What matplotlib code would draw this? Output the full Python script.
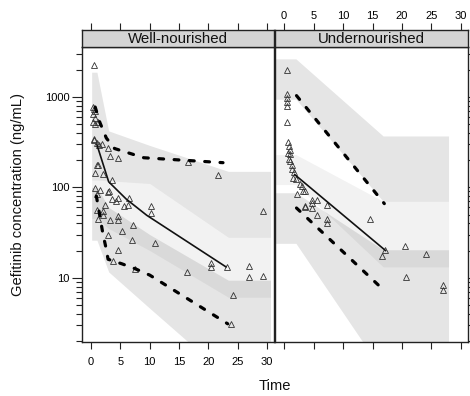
import matplotlib
matplotlib.use("Agg")
import matplotlib.pyplot as plt
import numpy as np
from matplotlib.ticker import LogLocator, NullFormatter, FixedLocator

plt.rcParams['font.family'] = ['Liberation Sans', 'DejaVu Sans']

# ---------------- data ----------------
panels = ["Well-nourished", "Undernourished"]

# observed concentrations (Time, ng/mL)
obs_L_t = [0.5, 0.4, 0.5, 0.6, 0.4, 0.7, 0.4, 1.2, 0.6, 0.55, 1.0, 0.5, 1.8, 1.4, 2.8, 3.2, 4.6,
           1.2, 1.0, 0.7, 2.1, 3.5, 0.7, 1.5, 3.1, 1.0, 2.9, 3.5, 4.6, 6.4, 4.3, 6.3, 2.4, 5.6,
           2.1, 2.1, 3.2, 4.6, 4.6, 5.3, 7.2, 10.3, 10.3, 10.9, 6.9, 2.9, 4.6, 3.8, 7.5,
           16.4, 20.4, 20.4, 23.1, 27.0, 27.0, 29.3, 24.2, 23.9, 16.5, 21.7, 29.3, 1.0, 1.2]
obs_L_v = [2270, 770, 740, 700, 640, 590, 520, 520, 500, 345, 305, 330, 298, 292, 270, 220, 212,
           175, 178, 144, 140, 121, 98, 94, 90, 84, 88, 74, 77, 77, 70, 64, 64, 62,
           54, 50, 44, 48, 43, 32.5, 38.5, 62, 52, 24, 26, 30, 20.5, 15.4, 12.4,
           11.5, 14.4, 13.2, 13.2, 13.4, 10.3, 10.4, 6.4, 3.1, 190, 136, 54, 56, 45]

obs_R_t = [0.5, 0.5, 0.5, 0.5, 0.5, 0.5, 0.7, 0.85, 1.0, 0.7, 1.0, 0.85, 1.0, 1.25, 1.4, 1.6,
           1.5, 2.0, 2.7, 2.95, 3.2, 2.1, 3.5, 3.5, 4.7, 4.7, 5.6, 4.7, 5.5, 7.3, 7.3, 7.3, 3.5,
           14.6, 16.6, 20.5, 24.1, 20.6, 27.0, 27.0, 17.1]
obs_R_v = [1980, 1070, 965, 866, 795, 533, 316, 285, 256, 241, 231, 203, 194, 178, 161, 148,
           127, 122, 110, 103, 90, 85, 90, 62, 73, 67, 72, 59, 50, 64, 44.5, 40, 60,
           44.5, 17.4, 22.5, 18.5, 10.3, 8.3, 7.3, 20.5]

# observed percentiles (5th dashed, median solid, 95th dashed)
p95_L_t = [0.7, 1.5, 2.6, 4.0, 9.0, 22.5]
p95_L_v = [770, 520, 350, 268, 212, 187]
p50_L_t = [1.0, 3.0, 6.0, 9.5, 23.0]
p50_L_v = [295, 115, 74, 49, 13.2]
p05_L_t = [0.9, 1.5, 2.0, 2.5, 2.9, 5.2, 7.5, 10.0, 23.3]
p05_L_v = [80, 48, 31, 22, 16, 14.3, 12.6, 10.7, 3.1]

p95_R_t = [2.1, 17.0]
p95_R_v = [1030, 66]
p50_R_t = [1.8, 17.2]
p50_R_v = [138, 20]
p05_R_t = [2.1, 17.1]
p05_R_v = [59, 7.1]

# simulated confidence areas
ci_L_t = [0.1, 1.0, 3.0, 10.0, 23.4, 30.6]
ci95_L_hi = [1870, 1870, 420, 290, 150, 150]
ci95_L_lo = [120, 120, 118, 110, 28, 28]
ci50_L_hi = [120, 120, 118, 110, 28, 28]
ci50_L_lo = [45, 45, 35, 20, 6.1, 6.1]
ci05_L_hi = [100, 100, 60, 30, 9.4, 9.4]
ci05_L_lo = [26, 26, 11.6, 4.6, 0.8, 0.8]

ci_R_t = [-1.5, 2.0, 16.8, 27.9]
ci95_R_hi = [2625, 2625, 369, 369]
ci95_R_lo = [940, 940, 70, 70]
ci50_R_hi = [230, 230, 70, 70]
ci50_R_lo = [107, 107, 13.2, 13.2]
ci05_R_hi = [87, 87, 20.4, 20.4]
ci05_R_lo = [24, 24, 0.91, 0.91]

xticks = [0, 5, 10, 15, 20, 25, 30]
yticks = [10, 100, 1000]

# ---------------- figure ----------------
W, H = 470, 396
fig = plt.figure(figsize=(W / 100, H / 100), dpi=100)

def fx(px):
    return px / W

def fy(py):
    return 1 - py / H

bot, top = 342, 47
axL = fig.add_axes([fx(82), fy(bot), fx(192), (bot - top) / H])
axR = fig.add_axes([fx(275), fy(bot), fx(193), (bot - top) / H])
stL = fig.add_axes([fx(82), fy(47), fx(192), 17 / H])
stR = fig.add_axes([fx(275), fy(47), fx(193), 17 / H])

XLIM = (-1.55, 31.2)
YLIM = (1.95, 3550)

data = [
    (axL, obs_L_t, obs_L_v, ci_L_t, (ci95_L_lo, ci95_L_hi), (ci50_L_lo, ci50_L_hi), (ci05_L_lo, ci05_L_hi),
     (p95_L_t, p95_L_v), (p50_L_t, p50_L_v), (p05_L_t, p05_L_v)),
    (axR, obs_R_t, obs_R_v, ci_R_t, (ci95_R_lo, ci95_R_hi), (ci50_R_lo, ci50_R_hi), (ci05_R_lo, ci05_R_hi),
     (p95_R_t, p95_R_v), (p50_R_t, p50_R_v), (p05_R_t, p05_R_v)),
]

for ax, ot, ov, ct, c95, c50, c05, p95, p50, p05 in data:
    ax.set_yscale('log')
    ax.set_xlim(*XLIM)
    ax.set_ylim(*YLIM)
    ax.fill_between(ct, c95[0], c95[1], color='black', alpha=0.10, lw=0)
    ax.fill_between(ct, c05[0], c05[1], color='black', alpha=0.10, lw=0)
    ax.fill_between(ct, c50[0], c50[1], color='black', alpha=0.05, lw=0)
    ax.plot(ot, ov, linestyle='none', marker='^', markersize=4.2, markerfacecolor='none',
            markeredgecolor='#333333', markeredgewidth=0.6, zorder=3)
    for (lt, lv) in (p95, p05):
        ax.plot(lt, lv, color='black', lw=2.3, linestyle=(0, (1.5, 3.3)),
                dash_capstyle='round', solid_capstyle='round', zorder=4)
    ax.plot(p50[0], p50[1], color='#111111', lw=1.2, zorder=4)
    for s in ax.spines.values():
        s.set_linewidth(1.0)
        s.set_color('#222222')
    ax.xaxis.set_major_locator(FixedLocator(xticks))
    ax.yaxis.set_major_locator(FixedLocator(yticks))
    ax.yaxis.set_minor_locator(LogLocator(base=10, subs=np.arange(2, 10)))
    ax.yaxis.set_minor_formatter(NullFormatter())
    ax.tick_params(axis='x', which='major', direction='out', length=4.8, width=0.8,
                   color='#222222', labelsize=8, pad=6, top=False)
    ax.tick_params(axis='y', which='major', direction='out', length=7.2, width=0.8,
                   color='#222222', labelsize=8, pad=2)
    ax.tick_params(axis='y', which='minor', direction='out', length=4.6, width=0.8,
                   color='#222222')

axL.set_yticklabels(['10', '100', '1000'])
axL.tick_params(axis='y', which='both', left=True, right=False)
axL.set_xticklabels([str(v) for v in xticks])
axR.tick_params(axis='y', which='both', left=False, right=True, labelleft=False, labelright=False)
axR.tick_params(axis='x', labelbottom=False)

for st, name in ((stL, panels[0]), (stR, panels[1])):
    st.set_facecolor('#d4d4d4')
    st.set_xlim(*XLIM)
    st.set_ylim(0, 1)
    st.set_yticks([])
    st.xaxis.set_major_locator(FixedLocator(xticks))
    st.tick_params(axis='x', which='major', direction='out', length=4.8, width=0.8,
                   color='#222222', labelsize=8, pad=2,
                   bottom=False, labelbottom=False, top=True, labeltop=False)
    for s in st.spines.values():
        s.set_linewidth(1.0)
        s.set_color('#222222')
    st.text(0.5, 0.45, name, transform=st.transAxes, ha='center', va='center',
            fontsize=10.8, color='#111111')

stR.tick_params(axis='x', labeltop=True)
stR.set_xticklabels([str(v) for v in xticks])

fig.text(fx(18), fy(195), 'Gefitinib concentration (ng/mL)', rotation=90,
         ha='center', va='center', fontsize=10.6, color='#111111')
fig.text(fx(275), fy(386), 'Time', ha='center', va='center', fontsize=10.6, color='#111111')

fig.savefig('out.png', dpi=100)
